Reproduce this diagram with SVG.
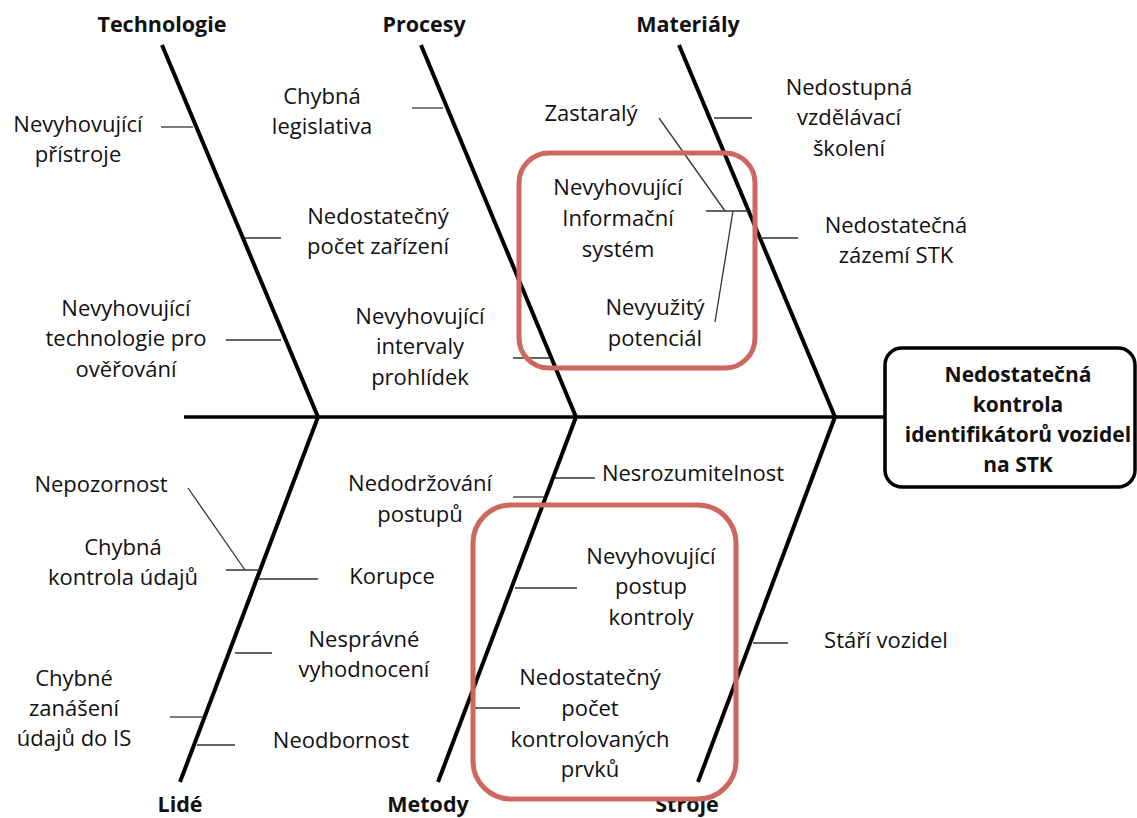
<svg xmlns="http://www.w3.org/2000/svg" width="1137" height="818" viewBox="0 0 1137 818">
<style>
.t{font-family:"Open Sans","Liberation Sans",sans-serif;font-size:22px;fill:#111;text-anchor:middle}
.h{font-family:"Open Sans","Liberation Sans",sans-serif;font-size:21.5px;font-weight:bold;fill:#111;text-anchor:middle}
.b{font-family:"Open Sans","Liberation Sans",sans-serif;font-size:21px;font-weight:bold;fill:#111;text-anchor:middle}
.bone{stroke:#000;stroke-width:4;fill:none;stroke-linecap:butt}
.tick{stroke:#333;stroke-width:1.3;fill:none}
.hl{fill:none;stroke:#CD6760;stroke-width:5}
</style>
<rect width="1137" height="818" fill="#fff"/>
<g id="connectors">
<line class="bone" x1="184" y1="417" x2="885" y2="417" style="stroke-width:3.5"/>
<line class="bone" x1="162" y1="45" x2="318" y2="417"/>
<line class="bone" x1="421" y1="45" x2="576" y2="417"/>
<line class="bone" x1="679" y1="45" x2="835" y2="417"/>
<line class="bone" x1="318" y1="417" x2="180" y2="782"/>
<line class="bone" x1="576" y1="417" x2="438" y2="782"/>
<line class="bone" x1="835" y1="417" x2="698" y2="782"/>
<line class="tick" x1="161" y1="127" x2="193" y2="127"/>
<line class="tick" x1="245" y1="238" x2="281" y2="238"/>
<line class="tick" x1="226" y1="340" x2="281" y2="340"/>
<line class="tick" x1="412" y1="108" x2="443" y2="108"/>
<line class="tick" x1="513" y1="358" x2="549" y2="358"/>
<line class="tick" x1="659" y1="118" x2="725" y2="211"/>
<line class="tick" x1="706" y1="211" x2="748" y2="211"/>
<line class="tick" x1="715" y1="322" x2="733" y2="211"/>
<line class="tick" x1="714" y1="118" x2="752" y2="118"/>
<line class="tick" x1="760" y1="238" x2="798" y2="238"/>
<line class="tick" x1="188" y1="488" x2="245" y2="570"/>
<line class="tick" x1="226" y1="570" x2="260" y2="570"/>
<line class="tick" x1="258" y1="579" x2="318" y2="579"/>
<line class="tick" x1="235" y1="653" x2="272" y2="653"/>
<line class="tick" x1="170" y1="717" x2="202" y2="717"/>
<line class="tick" x1="197" y1="745" x2="235" y2="745"/>
<line class="tick" x1="555" y1="478" x2="595" y2="478"/>
<line class="tick" x1="513" y1="497" x2="545" y2="497"/>
<line class="tick" x1="515" y1="588" x2="577" y2="588"/>
<line class="tick" x1="472" y1="708" x2="520" y2="708"/>
<line class="tick" x1="753" y1="643" x2="788" y2="643"/>
</g>
<g id="categories">
<text class="h" x="162" y="32">Technologie</text>
<text class="h" x="424" y="32">Procesy</text>
<text class="h" x="688" y="32">Materiály</text>
<text class="h" x="180" y="812">Lidé</text>
<text class="h" x="428" y="812">Metody</text>
<text class="h" x="687" y="812">Stroje</text>
</g>
<g id="n-pristroje"><text class="t" x="78" y="132">Nevyhovující</text><text class="t" x="78" y="162">přístroje</text></g>
<g id="n-legislativa"><text class="t" x="322" y="104">Chybná</text><text class="t" x="322" y="134">legislativa</text></g>
<g id="n-zarizeni"><text class="t" x="378" y="224">Nedostatečný</text><text class="t" x="378" y="254">počet zařízení</text></g>
<g id="n-technologie"><text class="t" x="126" y="316">Nevyhovující</text><text class="t" x="126" y="346">technologie pro</text><text class="t" x="126" y="377">ověřování</text></g>
<g id="n-intervaly"><text class="t" x="420" y="324">Nevyhovující</text><text class="t" x="420" y="354">intervaly</text><text class="t" x="420" y="385">prohlídek</text></g>
<g id="n-zastaraly"><text class="t" x="591" y="121">Zastaralý</text></g>
<g id="n-is"><text class="t" x="618" y="195">Nevyhovující</text><text class="t" x="618" y="226">Informační</text><text class="t" x="618" y="257">systém</text></g>
<g id="n-potencial"><text class="t" x="655" y="315">Nevyužitý</text><text class="t" x="655" y="346">potenciál</text></g>
<g id="n-skoleni"><text class="t" x="849" y="95">Nedostupná</text><text class="t" x="849" y="125">vzdělávací</text><text class="t" x="849" y="156">školení</text></g>
<g id="n-zazemi"><text class="t" x="896" y="233">Nedostatečná</text><text class="t" x="896" y="263">zázemí STK</text></g>
<g id="n-nepozornost"><text class="t" x="101" y="492">Nepozornost</text></g>
<g id="n-kontrola-udaju"><text class="t" x="123" y="555">Chybná</text><text class="t" x="123" y="585">kontrola údajů</text></g>
<g id="n-korupce"><text class="t" x="392" y="584">Korupce</text></g>
<g id="n-vyhodnoceni"><text class="t" x="364" y="647">Nesprávné</text><text class="t" x="364" y="677">vyhodnocení</text></g>
<g id="n-zanaseni"><text class="t" x="74" y="686">Chybné</text><text class="t" x="74" y="716">zanášení</text><text class="t" x="74" y="746">údajů do IS</text></g>
<g id="n-neodbornost"><text class="t" x="341" y="748">Neodbornost</text></g>
<g id="n-nedodrzovani"><text class="t" x="420" y="491">Nedodržování</text><text class="t" x="420" y="522">postupů</text></g>
<g id="n-nesrozumitelnost"><text class="t" x="693" y="481">Nesrozumitelnost</text></g>
<g id="n-postup"><text class="t" x="651" y="564">Nevyhovující</text><text class="t" x="651" y="594">postup</text><text class="t" x="651" y="625">kontroly</text></g>
<g id="n-pocet-prvku"><text class="t" x="590" y="685">Nedostatečný</text><text class="t" x="590" y="716">počet</text><text class="t" x="590" y="747">kontrolovaných</text><text class="t" x="590" y="777">prvků</text></g>
<g id="n-stari"><text class="t" x="886" y="648">Stáří vozidel</text></g>
<g id="effect">
<rect x="885" y="348" width="250" height="139" rx="17" fill="#fff" stroke="#000" stroke-width="3.5"/>
<text class="b" x="1018" y="382">Nedostatečná</text>
<text class="b" x="1018" y="412">kontrola</text>
<text class="b" x="1018" y="442">identifikátorů vozidel</text>
<text class="b" x="1018" y="472">na STK</text>
</g>
<g id="highlights">
<rect class="hl" x="519" y="153" width="236" height="215" rx="30"/>
<rect class="hl" x="473" y="505" width="263" height="294" rx="38"/>
</g>
</svg>
